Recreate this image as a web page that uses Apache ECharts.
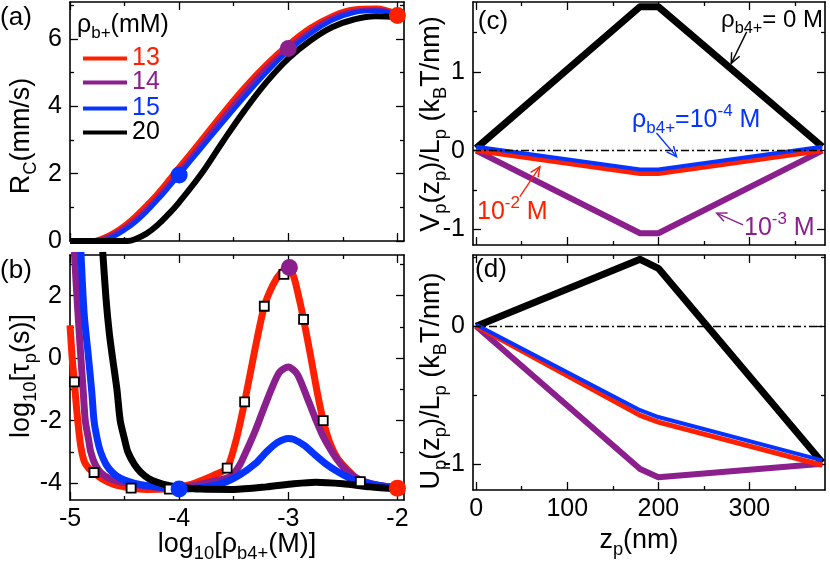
<!DOCTYPE html>
<html><head><meta charset="utf-8">
<script src="https://cdn.jsdelivr.net/npm/echarts@6/dist/echarts.min.js"></script>
<style>html,body{margin:0;padding:0;background:#fff}#c{width:830px;height:566px}</style>
</head><body><div id="c"></div>
<script>
const FONT = '"Liberation Sans", Arial, Helvetica, sans-serif';
const RED = '#ff2000', PURPLE = '#8b1f8e', BLUE = '#0533ff', BLACK = '#000000';

// ---------- Panel (a): R_C vs log10 rho_b4+ ----------
const legendNames = ['13', '14', '15', '20'];
const aRedX = [-5, -4.82, -4.7, -4.6, -4.5, -4.4, -4.3, -4.2, -4.1, -4.0, -3.8, -3.6, -3.4, -3.2, -3.0, -2.8, -2.6, -2.4, -2.2, -2.0];
const aRedY = [0, 0, 0.1, 0.26, 0.48, 0.76, 1.08, 1.43, 1.82, 2.22, 3.02, 3.83, 4.6, 5.28, 5.86, 6.35, 6.7, 6.9, 6.93, 6.77];
const aPurX = [-5, -4.77, -4.7, -4.6, -4.5, -4.4, -4.3, -4.2, -4.1, -4.0, -3.8, -3.6, -3.4, -3.2, -3.0, -2.8, -2.6, -2.4, -2.2, -2.0];
const aPurY = [0, 0, 0.06, 0.2, 0.4, 0.65, 0.95, 1.29, 1.67, 2.07, 2.87, 3.67, 4.44, 5.15, 5.73, 6.24, 6.62, 6.83, 6.87, 6.74];
const aBluX = [-5, -4.72, -4.6, -4.5, -4.4, -4.3, -4.2, -4.1, -4.0, -3.8, -3.6, -3.4, -3.2, -3.0, -2.8, -2.6, -2.4, -2.2, -2.0];
const aBluY = [0, 0, 0.13, 0.32, 0.56, 0.86, 1.2, 1.57, 1.96, 2.74, 3.52, 4.28, 5.0, 5.64, 6.15, 6.55, 6.78, 6.84, 6.72];
const aBlkX = [-5, -4.47, -4.4, -4.3, -4.2, -4.1, -4.0, -3.8, -3.6, -3.4, -3.2, -3.0, -2.8, -2.6, -2.4, -2.2, -2.0];
const aBlkY = [0, 0, 0.06, 0.22, 0.47, 0.79, 1.15, 1.98, 2.95, 3.88, 4.72, 5.42, 5.95, 6.35, 6.58, 6.68, 6.66];
const aDotX = [-4, -3, -2];
const aDotY = [1.96, 5.72, 6.7];

// ---------- Panel (b): log10 tau_p vs log10 rho_b4+ ----------
const bRedX = [-5.0, -4.98, -4.96, -4.94, -4.92, -4.9, -4.87, -4.83, -4.78, -4.7, -4.6, -4.45, -4.3, -4.1, -3.9, -3.75, -3.65, -3.56, -3.48, -3.4, -3.31, -3.22, -3.14, -3.07, -3.0, -2.95, -2.9, -2.86, -2.8, -2.74, -2.68, -2.62, -2.55, -2.45, -2.34, -2.2, -2.0];
const bRedY = [1.05, 0.0, -0.76, -1.6, -2.3, -2.85, -3.3, -3.52, -3.66, -3.88, -4.04, -4.15, -4.2, -4.18, -4.05, -3.85, -3.7, -3.52, -2.65, -1.4, 0.2, 1.66, 2.35, 2.72, 2.9, 2.6, 1.9, 1.24, 0.15, -1.0, -2.0, -2.7, -3.2, -3.6, -3.95, -4.06, -4.16];
const bPurX = [-4.96, -4.93, -4.9, -4.88, -4.86, -4.83, -4.81, -4.77, -4.72, -4.64, -4.55, -4.4, -4.25, -4.1, -3.9, -3.7, -3.53, -3.45, -3.38, -3.3, -3.23, -3.15, -3.08, -3.0, -2.92, -2.83, -2.75, -2.68, -2.55, -2.45, -2.34, -2.2, -2.0];
const bPurY = [3.4, 1.6, 0.0, -1.0, -2.0, -2.6, -3.0, -3.4, -3.66, -3.85, -3.95, -4.05, -4.12, -4.15, -4.1, -3.95, -3.79, -3.45, -2.94, -2.3, -1.66, -0.95, -0.45, -0.28, -0.5, -1.24, -1.95, -2.51, -3.26, -3.65, -3.9, -4.05, -4.16];
const bBluX = [-4.9, -4.87, -4.83, -4.8, -4.78, -4.75, -4.72, -4.67, -4.61, -4.54, -4.46, -4.35, -4.25, -4.1, -4.0, -3.8, -3.6, -3.45, -3.3, -3.2, -3.1, -3.0, -2.95, -2.85, -2.77, -2.65, -2.55, -2.45, -2.34, -2.2, -2.0];
const bBluY = [3.4, 1.4, 0.0, -1.1, -2.0, -2.6, -3.0, -3.4, -3.66, -3.84, -3.95, -4.05, -4.1, -4.15, -4.19, -4.15, -4.0, -3.75, -3.37, -3.0, -2.7, -2.57, -2.6, -2.8, -3.05, -3.4, -3.63, -3.82, -3.95, -4.06, -4.16];
const bBlkX = [-4.7, -4.67, -4.64, -4.61, -4.57, -4.54, -4.5, -4.47, -4.41, -4.35, -4.28, -4.2, -4.1, -4.0, -3.8, -3.5, -3.2, -2.95, -2.75, -2.5, -2.25, -2.0];
const bBlkY = [3.4, 1.9, 0.8, 0.0, -1.0, -2.0, -2.6, -3.0, -3.4, -3.66, -3.85, -3.97, -4.07, -4.13, -4.19, -4.2, -4.12, -4.02, -3.97, -4.02, -4.12, -4.19];
const bSqX = [-4.96, -4.78, -4.44, -4.09, -3.56, -3.40, -3.22, -3.04, -2.86, -2.68, -2.34];
const bSqY = [-0.76, -3.66, -4.16, -4.19, -3.52, -1.40, 1.66, 2.68, 1.24, -2.0, -3.95];
const bDotX = [-4.0, -2.99, -2.0];
const bDotY = [-4.19, 2.9, -4.16];

// ---------- Panels (c), (d): profiles vs z_p ----------
const zp = [0, 180, 200, 380];
const cBlack = [0.03, 1.83, 1.83, 0.05];
const cPurple = [0, -1.05, -1.05, 0];
const cRed = [0, -0.29, -0.29, 0];
const cBlue = [0.05, -0.24, -0.24, 0.05];
const dBlack = [0, 0.486, 0.42, -0.99];
const dPurple = [0, -1.037, -1.097, -1.0];
const dRed = [0, -0.648, -0.697, -1.01];
const dBlue = [0.01, -0.61, -0.66, -0.975];

// tick values
const rhoMajor = [-5, -4, -3, -2], rhoMinor = [-4.5, -3.5, -2.5];
const aYMajor = [0, 2, 4, 6], aYMinor = [1, 3, 5, 7];
const bYMajor = [-4, -2, 0, 2], bYMinor = [-3, -1, 1, 3];
const zMajor = [0, 100, 200, 300], zMinor = [50, 150, 250, 350];
const cYMajor = [-1, 0, 1], cYMinor = [-0.5, 0.5, 1.5];
const dYMajor = [-1, 0], dYMinor = [-0.5, 0.5];

// ---------- build ----------
const zip = (xs, ys) => xs.map((x, i) => [x, ys[i]]);
const xAxis = [], yAxis = [];
function mkAxes(list, grid, isX, min, max, majors, minors, labels) {
  const posMain = isX ? 'bottom' : 'left', posMirror = isX ? 'top' : 'right';
  const common = { type: 'value', gridIndex: grid, min: min, max: max, splitLine: { show: false } };
  const tickStyle = { color: '#000', width: 1.3 };
  const lineStyle = { color: '#000', width: 1.6 };
  const idx = list.length;
  list.push(Object.assign({}, common, { position: posMain,
    axisLine: { show: true, onZero: false, lineStyle: lineStyle },
    axisTick: { show: true, inside: true, length: 8, customValues: majors, lineStyle: tickStyle },
    axisLabel: { show: !!labels, customValues: labels || majors, margin: isX ? 7 : 8, fontSize: 25,
      fontFamily: FONT, color: '#000', showMinLabel: true, showMaxLabel: true } }));
  list.push(Object.assign({}, common, { position: posMain, axisLine: { show: false, onZero: false },
    axisTick: { show: true, inside: true, length: 4, customValues: minors, lineStyle: tickStyle },
    axisLabel: { show: false } }));
  list.push(Object.assign({}, common, { position: posMirror, axisLine: { show: true, onZero: false, lineStyle: lineStyle },
    axisTick: { show: true, inside: true, length: 8, customValues: majors, lineStyle: tickStyle },
    axisLabel: { show: false } }));
  list.push(Object.assign({}, common, { position: posMirror, axisLine: { show: false, onZero: false },
    axisTick: { show: true, inside: true, length: 4, customValues: minors, lineStyle: tickStyle },
    axisLabel: { show: false } }));
  return idx;
}
const grid = [
  { left: 70, top: 2, width: 334, height: 239 },
  { left: 70, top: 255, width: 334, height: 245 },
  { left: 473, top: 2, width: 352, height: 243 },
  { left: 473, top: 255, width: 352, height: 235 }
];
const ax = [
  [mkAxes(xAxis, 0, true, -5, -1.94, rhoMajor, rhoMinor, null), mkAxes(yAxis, 0, false, 0, 7.1, aYMajor, aYMinor, aYMajor)],
  [mkAxes(xAxis, 1, true, -5, -1.94, rhoMajor, rhoMinor, rhoMajor), mkAxes(yAxis, 1, false, -4.54, 3.3, bYMajor, bYMinor, bYMajor)],
  [mkAxes(xAxis, 2, true, -3.5, 383, zMajor, zMinor, null), mkAxes(yAxis, 2, false, -1.2, 1.89, cYMajor, cYMinor, cYMajor)],
  [mkAxes(xAxis, 3, true, -3.5, 383, zMajor, zMinor, zMajor), mkAxes(yAxis, 3, false, -1.19, 0.517, dYMajor, dYMinor, dYMajor)]
];
function line(name, data, color, width, p, smooth, extra) {
  return Object.assign({ type: 'line', name: name, data: data, xAxisIndex: ax[p][0], yAxisIndex: ax[p][1],
    showSymbol: false, symbol: 'none', smooth: smooth, silent: true, animation: false,
    lineStyle: { color: color, width: width, cap: 'butt', join: 'round' }, itemStyle: { color: color } }, extra || {});
}
function dots(name, xs, ys, colors, p) {
  return { type: 'scatter', name: name, xAxisIndex: ax[p][0], yAxisIndex: ax[p][1], symbolSize: 17, clip: false,
    animation: false, silent: true, z: 5,
    data: xs.map((x, i) => ({ value: [x, ys[i]], itemStyle: { color: colors[i], opacity: 1 } })) };
}
const zeroLine = { silent: true, symbol: 'none', animation: false, label: { show: false },
  lineStyle: { color: '#000', width: 1.4, type: [8, 3, 2, 3] }, data: [{ yAxis: 0 }] };

const series = [
  line('13', zip(aRedX, aRedY), RED, 4.5, 0, 0.4),
  line('14', zip(aPurX, aPurY), PURPLE, 4.5, 0, 0.4),
  line('15', zip(aBluX, aBluY), BLUE, 4.5, 0, 0.4),
  line('20', zip(aBlkX, aBlkY), BLACK, 6, 0, 0.4),
  dots('aDots', aDotX, aDotY, [BLUE, PURPLE, RED], 0),

  line('13', zip(bRedX, bRedY), RED, 7, 1, 0.25),
  line('14', zip(bPurX, bPurY), PURPLE, 7, 1, 0.25),
  line('15', zip(bBluX, bBluY), BLUE, 7, 1, 0.25),
  line('20', zip(bBlkX, bBlkY), BLACK, 7, 1, 0.25),
  { type: 'scatter', name: 'sim', xAxisIndex: ax[1][0], yAxisIndex: ax[1][1], symbol: 'rect', symbolSize: 9,
    animation: false, silent: true, z: 4, data: zip(bSqX, bSqY),
    itemStyle: { color: '#fff', borderColor: '#000', borderWidth: 1.8, opacity: 1 } },
  dots('bDots', bDotX, bDotY, [BLUE, PURPLE, RED], 1),

  line('c0', zip(zp, cBlack), BLACK, 7, 2, false, { markLine: zeroLine }),
  line('c3', zip(zp, cPurple), PURPLE, 6, 2, false),
  line('c2', zip(zp, cRed), RED, 5, 2, false),
  line('c4', zip(zp, cBlue), BLUE, 4, 2, false),

  line('d0', zip(zp, dBlack), BLACK, 7, 3, false, { markLine: zeroLine }),
  line('d3', zip(zp, dPurple), PURPLE, 6, 3, false),
  line('d2', zip(zp, dRed), RED, 5, 3, false),
  line('d4', zip(zp, dBlue), BLUE, 4, 3, false)
];

const legendColors = [RED, PURPLE, BLUE, BLACK];
const legendTops = [46, 70, 96, 120];
const option = {
  animation: false,
  backgroundColor: '#fff',
  grid: grid, xAxis: xAxis, yAxis: yAxis, series: series,
  legend: legendNames.map((n, i) => ({
    orient: 'vertical', left: 83, top: legendTops[i], padding: 0, itemGap: 0, itemWidth: 44, itemHeight: 4,
    icon: 'rect', selectedMode: false,
    textStyle: { fontSize: 25, lineHeight: 24, fontFamily: FONT },
    data: [{ name: n, textStyle: { color: legendColors[i] } }] }))
};
const chart = echarts.init(document.getElementById('c'), null, { renderer: 'canvas' });
chart.setOption(option);

// ---------- text + annotations ----------
function rich(color, size) {
  return {
    s: { fontSize: size * 0.68, lineHeight: size * 0.68, verticalAlign: 'bottom', fill: color, color: color, fontFamily: FONT },
    u: { fontSize: size * 0.68, lineHeight: size * 0.68, verticalAlign: 'top', fill: color, color: color, fontFamily: FONT },
    m: { fontSize: size, lineHeight: size * 1.36, fill: color, color: color, fontFamily: FONT }
  };
}
function txt(x, y, text, color, size, align, rot) {
  return { type: 'text', x: x, y: y, rotation: rot || 0, silent: true, z: 10,
    style: { text: text, fill: color, fontSize: size, fontFamily: FONT, lineHeight: size * 1.36,
      align: align || 'center', verticalAlign: 'middle', rich: rich(color, size) } };
}
const R90 = Math.PI / 2;
function arrow(p, tail, head, color, w) {
  const a = chart.convertToPixel({ gridIndex: p }, tail);
  const b = chart.convertToPixel({ gridIndex: p }, head);
  const ang = Math.atan2(b[1] - a[1], b[0] - a[0]);
  const L = 11, sp = 0.42;
  const h1 = [b[0] - L * Math.cos(ang - sp), b[1] - L * Math.sin(ang - sp)];
  const h2 = [b[0] - L * Math.cos(ang + sp), b[1] - L * Math.sin(ang + sp)];
  return [
    { type: 'line', silent: true, z: 10, shape: { x1: a[0], y1: a[1], x2: b[0], y2: b[1] }, style: { stroke: color, lineWidth: w } },
    { type: 'polyline', silent: true, z: 10, shape: { points: [h1, b, h2] }, style: { stroke: color, lineWidth: w, fill: null } }
  ];
}
// arrow tail/head positions in data units of panel (c)
const arrBlack = [[297, 1.51], [280, 1.11]];
const arrBlue = [[198, 0.225], [220, -0.076]];
const arrRed = [[48, -0.584], [70, -0.203]];
const arrPurple = [[293, -0.943], [264, -0.794]];

const graphics = [
  txt(16, 18, '(a)', BLACK, 26),
  txt(16, 271, '(b)', BLACK, 26),
  txt(493, 22, '(c)', BLACK, 26),
  txt(491, 270, '(d)', BLACK, 26),
  txt(77, 25, 'ρ{s|b+}(mM)', BLACK, 25, 'left'),
  txt(22, 136, 'R{s|C}(mm/s)', BLACK, 27, 'center', R90),
  txt(22, 376, 'log{s|10}[τ{s|p}(s)]', BLACK, 27, 'center', R90),
  txt(432, 124, 'V{s|p}(z{s|p})/L{s|p} (k{s|B}T/nm)', BLACK, 27, 'center', R90),
  txt(432, 381, 'U{s|p}(z{s|p})/L{s|p} (k{s|B}T/nm)', BLACK, 27, 'center', R90),
  txt(237, 545, 'log{s|10}[ρ{s|b4+}(M)]', BLACK, 27, 'center'),
  txt(639, 541, 'z{s|p}(nm)', BLACK, 27, 'center'),
  txt(721, 20, 'ρ{s|b4+}= 0 M', BLACK, 24, 'left'),
  txt(632, 120, 'ρ{s|b4+}=10{u|-4} M', BLUE, 25, 'left'),
  txt(477, 212, '10{u|-2} M', RED, 25, 'left'),
  txt(744, 228, '10{u|-3} M', PURPLE, 25, 'left')
].concat(arrow(2, arrBlack[0], arrBlack[1], BLACK, 1.4),
         arrow(2, arrBlue[0], arrBlue[1], BLUE, 1.4),
         arrow(2, arrRed[0], arrRed[1], RED, 1.4),
         arrow(2, arrPurple[0], arrPurple[1], PURPLE, 1.4));
chart.setOption({ graphic: graphics });
</script>
</body></html>
